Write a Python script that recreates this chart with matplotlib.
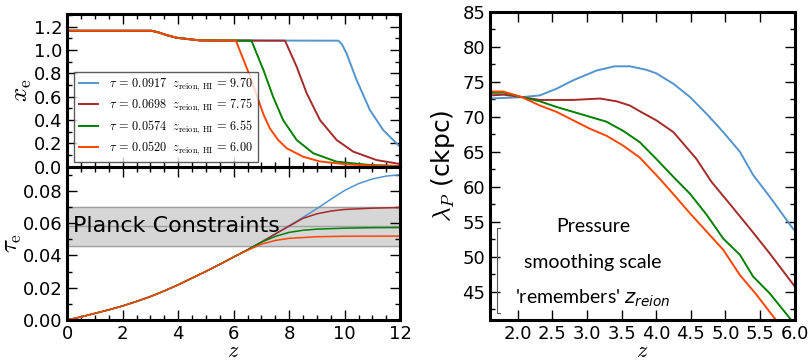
import matplotlib
matplotlib.use("Agg")
import matplotlib.pyplot as plt
from matplotlib.ticker import MultipleLocator

plt.rcParams['mathtext.fontset'] = 'cm'
plt.rcParams['font.family'] = 'DejaVu Sans'

colors = ['#5494cc', '#a52a2a', '#008000', '#ff4500']
tau_lab = ['0.0917', '0.0698', '0.0574', '0.0520']
zre_lab = ['9.70', '7.75', '6.55', '6.00']

# ionized fraction x_e(z), shared low-z part (helium reionization step)
z_xe_low = [0.0, 3.04, 3.3, 3.58, 3.94, 4.42, 4.8]
xe_low = [1.165, 1.165, 1.15, 1.128, 1.105, 1.092, 1.082]

z_xe = [
    [9.77, 9.9, 10.07, 10.43, 10.91, 11.39, 12.0],
    [7.85, 8.27, 8.63, 9.11, 9.71, 10.31, 11.15, 12.0],
    [6.64, 7.07, 7.42, 7.78, 8.27, 8.87, 9.71, 10.9, 12.0],
    [6.08, 6.58, 7.07, 7.30, 7.6, 7.91, 8.5, 9.11, 10.07, 11.0, 12.0],
]
xe = [
    [1.08, 1.05, 0.97, 0.743, 0.486, 0.314, 0.17],
    [1.08, 0.857, 0.63, 0.40, 0.229, 0.129, 0.057, 0.023],
    [1.08, 0.83, 0.60, 0.40, 0.229, 0.115, 0.043, 0.015, 0.006],
    [1.08, 0.78, 0.45, 0.33, 0.23, 0.158, 0.086, 0.045, 0.02, 0.01, 0.005],
]

# optical depth tau_e(z)
z_tau_low = [0, 0.5, 1, 1.5, 2, 2.5, 3, 3.5, 4, 4.5, 5, 5.5, 6]
tau_low = [0, 0.0019, 0.0041, 0.0063, 0.0087, 0.0115, 0.0145, 0.018,
           0.0218, 0.026, 0.0301, 0.0345, 0.039]
z_tau = [
    [6.5, 7.0, 7.5, 8.0, 8.5, 9.0, 9.5, 10.0, 10.5, 11.0, 11.5, 12.0],
    [6.5, 7.0, 7.5, 8.0, 8.5, 9.0, 9.5, 10.0, 11.0, 12.0],
    [6.5, 7.0, 7.5, 8.0, 8.5, 9.0, 10.0, 11.0, 12.0],
    [6.5, 7.0, 7.5, 8.0, 9.0, 10.0, 12.0],
]
tau = [
    [0.0435, 0.0483, 0.0533, 0.0584, 0.0636, 0.0690, 0.0748, 0.0803, 0.0845, 0.0874, 0.0892, 0.0900],
    [0.0435, 0.0483, 0.0533, 0.0582, 0.0630, 0.0658, 0.0675, 0.0685, 0.0693, 0.0697],
    [0.0435, 0.0482, 0.0518, 0.0543, 0.0556, 0.0563, 0.0569, 0.0572, 0.0573],
    [0.0432, 0.0470, 0.0493, 0.0506, 0.0516, 0.0519, 0.0520],
]
planck_mid, planck_err = 0.058, 0.012

# pressure smoothing scale lambda_P(z)
z_lam = [
    [1.6, 2.06, 2.32, 2.56, 2.80, 3.14, 3.40, 3.62, 3.86, 4.0, 4.25, 4.49, 4.73, 4.97, 5.21, 5.40, 5.64, 5.97, 6.0],
    [1.6, 1.8, 2.06, 2.32, 2.8, 3.19, 3.43, 3.62, 3.76, 4.0, 4.25, 4.58, 4.80, 5.06, 5.35, 5.64, 5.97, 6.0],
    [1.6, 1.8, 2.06, 2.32, 2.56, 2.80, 3.04, 3.28, 3.52, 3.76, 4.0, 4.25, 4.49, 4.73, 4.97, 5.21, 5.40, 5.64, 5.91, 5.95],
    [1.6, 1.79, 2.06, 2.32, 2.56, 2.8, 3.04, 3.28, 3.52, 3.76, 4.0, 4.2, 4.49, 4.73, 4.97, 5.21, 5.45, 5.69, 5.73],
]
lam = [
    [72.6, 72.8, 73.05, 74.0, 75.2, 76.6, 77.2, 77.2, 76.7, 76.2, 74.7, 72.8, 70.4, 67.8, 65.0, 61.7, 58.6, 54.1, 53.8],
    [73.05, 73.15, 72.8, 72.4, 72.4, 72.6, 72.2, 71.6, 70.8, 69.5, 67.8, 64.0, 60.7, 57.6, 54.1, 50.5, 46.2, 45.8],
    [73.4, 73.45, 72.8, 72.2, 71.4, 70.7, 70.0, 69.3, 68.0, 66.4, 64.0, 61.4, 59.0, 56.0, 52.6, 50.3, 47.2, 44.8, 41.5, 41.0],
    [73.6, 73.6, 72.8, 71.6, 70.7, 69.5, 68.3, 67.3, 65.9, 64.2, 61.7, 59.5, 56.2, 53.6, 51.0, 47.4, 44.6, 41.5, 41.0],
]


def style(ax):
    for s in ax.spines.values():
        s.set_linewidth(2.2)
    ax.tick_params(which='both', direction='in', top=True, right=True, labelsize=13)
    ax.tick_params(which='major', length=7, width=1)
    ax.tick_params(which='minor', length=3.5, width=1)


fig = plt.figure(figsize=(8.1, 3.64), dpi=100)
ax1 = fig.add_axes([0.083, 0.542, 0.411, 0.420])
ax2 = fig.add_axes([0.083, 0.121, 0.411, 0.421], sharex=ax1)
ax3 = fig.add_axes([0.605, 0.121, 0.376, 0.847])

for i in range(4):
    ax1.plot(z_xe_low + z_xe[i], xe_low + xe[i], color=colors[i], lw=1.4,
             label=r'$\tau\, =\, %s\ \ z_{\rm reion,\,HI}\, =\, %s$' % (tau_lab[i], zre_lab[i]))
    ax2.plot(z_tau_low + z_tau[i], tau_low + tau[i], color=colors[i], lw=1.1)
    ax3.plot(z_lam[i], lam[i], color=colors[i], lw=1.4)

ax1.set_xlim(0, 12)
ax1.set_ylim(0, 1.31)
ax1.yaxis.set_major_locator(MultipleLocator(0.2))
ax1.yaxis.set_minor_locator(MultipleLocator(0.1))
ax1.xaxis.set_major_locator(MultipleLocator(2))
ax1.xaxis.set_minor_locator(MultipleLocator(0.5))
ax1.tick_params(labelbottom=False)
ax1.set_ylabel(r'$x_{\rm e}$', fontsize=18, labelpad=0)
leg = ax1.legend(loc='lower left', bbox_to_anchor=(0.02, 0.03), fontsize=8.8,
                 fancybox=False, borderaxespad=0, handlelength=1.6, handletextpad=0.85,
                 labelspacing=0.32, borderpad=0.4)
leg.get_frame().set_edgecolor('#333333')
leg.get_frame().set_linewidth(1.0)
style(ax1)

ax2.axhspan(planck_mid - planck_err, planck_mid + planck_err, color='#d6d6d6', zorder=0)
for v in (planck_mid - planck_err, planck_mid, planck_mid + planck_err):
    ax2.axhline(v, color='#a0a0a0', lw=1.0, zorder=0.5)
ax2.text(0.2, planck_mid, 'Planck Constraints', fontsize=16, va='center', ha='left')
ax2.set_ylim(0, 0.095)
ax2.yaxis.set_major_locator(MultipleLocator(0.02))
ax2.yaxis.set_minor_locator(MultipleLocator(0.01))
ax2.set_ylabel(r'$\tau_{\rm e}$', fontsize=18, labelpad=-1)
ax2.set_xlabel(r'$z$', fontsize=16, labelpad=-1)
style(ax2)

ax3.set_xlim(1.6, 6.0)
ax3.set_ylim(41, 85)
ax3.xaxis.set_major_locator(MultipleLocator(0.5))
ax3.yaxis.set_major_locator(MultipleLocator(5))
ax3.yaxis.set_minor_locator(MultipleLocator(2.5))
ax3.set_ylabel(r'$\lambda_P$ (ckpc)', fontsize=18, labelpad=4)
ax3.set_xlabel(r'$z$', fontsize=16, labelpad=-1)
ax3.text(3.09, 54.3, 'Pressure', fontsize=14, ha='center', va='center', family='Lato')
ax3.text(3.09, 49.2, 'smoothing scale', fontsize=14, ha='center', va='center', family='Lato')
ax3.text(3.09, 44.1, "'remembers' $z_{reion}$", fontsize=14, ha='center', va='center',
         family='Lato', math_fontfamily='dejavusans')
# thin bracket beside the note
tr = ax3.get_yaxis_transform()
ax3.plot([0.032, 0.022, 0.022, 0.032], [54.1, 54.1, 42.0, 42.0], color='#555555',
         lw=0.8, transform=tr)
style(ax3)

fig.savefig('out.png', dpi=100)
